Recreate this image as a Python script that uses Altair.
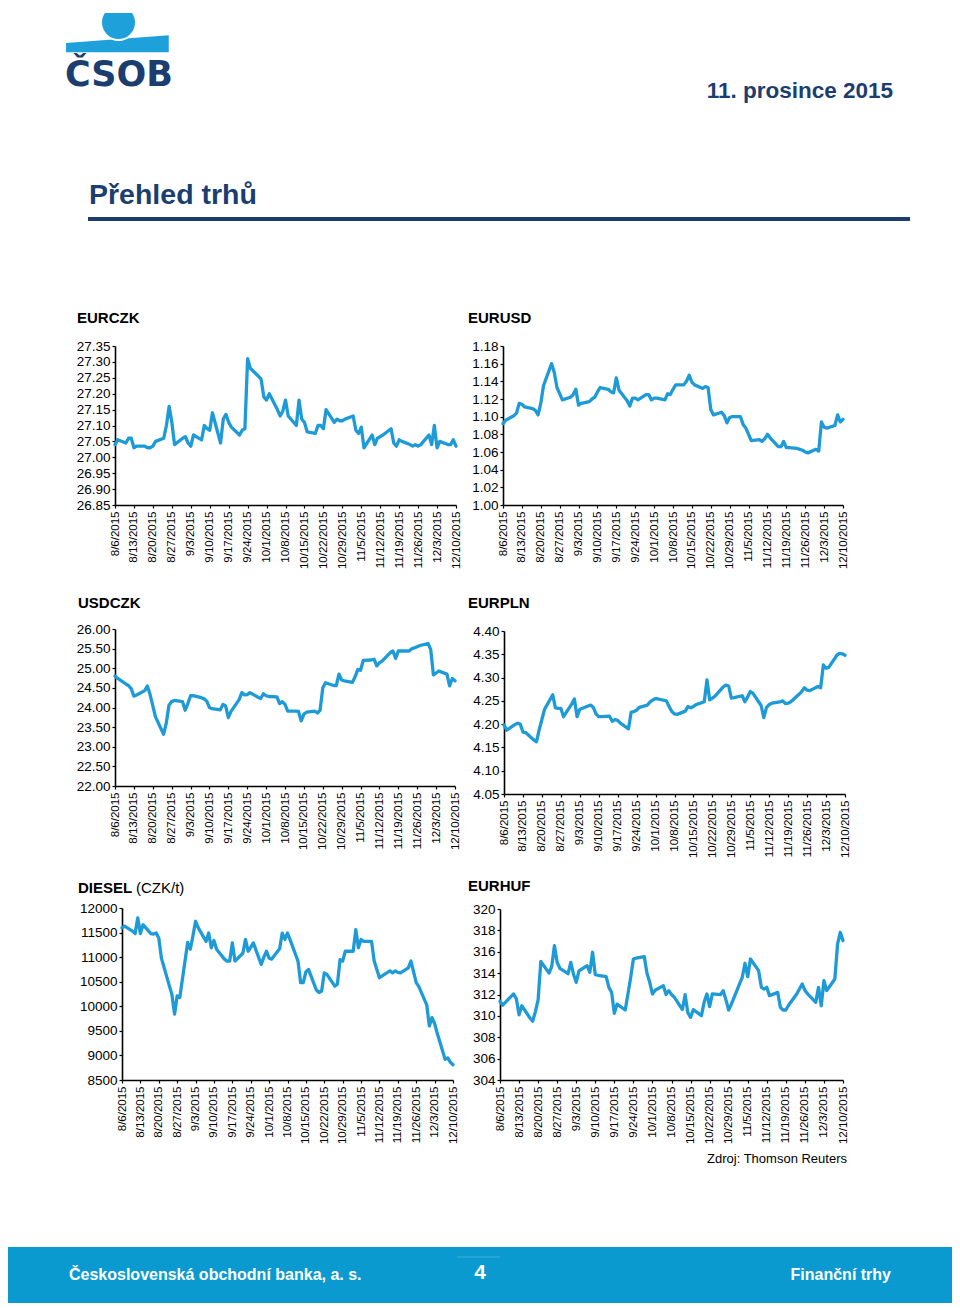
import altair as alt
import pandas as pd

# ---------------- data ----------------
DATES = [d.strftime("%Y-%m-%d") for d in pd.bdate_range("2015-08-06", "2015-12-10")]
TICK_DATES = ["2015-08-06", "2015-08-13", "2015-08-20", "2015-08-27", "2015-09-03",
              "2015-09-10", "2015-09-17", "2015-09-24", "2015-10-01", "2015-10-08",
              "2015-10-15", "2015-10-22", "2015-10-29", "2015-11-05", "2015-11-12",
              "2015-11-19", "2015-11-26", "2015-12-03", "2015-12-10"]

EURCZK = [27.04, 27.055, 27.045, 27.06, 27.06,
          27.03, 27.035, 27.035, 27.03, 27.03,
          27.035, 27.05, 27.06, 27.10, 27.16,
          27.11, 27.04, 27.06, 27.065, 27.045,
          27.035, 27.07, 27.055, 27.10, 27.09,
          27.085, 27.14, 27.045, 27.12, 27.135,
          27.11, 27.095, 27.07, 27.085, 27.09,
          27.31, 27.28, 27.255, 27.245, 27.19,
          27.18, 27.20, 27.15, 27.13, 27.145,
          27.18, 27.13, 27.10, 27.18, 27.12,
          27.11, 27.08, 27.075, 27.10, 27.10,
          27.09, 27.15, 27.11, 27.12, 27.115,
          27.115, 27.12, 27.13, 27.085, 27.075,
          27.095, 27.03, 27.07, 27.04, 27.06,
          27.065, 27.07, 27.09, 27.045, 27.035,
          27.055, 27.05, 27.04, 27.035, 27.04,
          27.035, 27.04, 27.07, 27.04, 27.10,
          27.03, 27.05, 27.04, 27.04, 27.055,
          27.035]

EURUSD = [1.092, 1.096, 1.101, 1.104, 1.115,
          1.114, 1.111, 1.109, 1.107, 1.102,
          1.115, 1.135, 1.160, 1.150, 1.133,
          1.126, 1.119, 1.122, 1.125, 1.131,
          1.113, 1.115, 1.117, 1.120, 1.122,
          1.128, 1.133, 1.131, 1.128, 1.127,
          1.144, 1.130, 1.118, 1.112, 1.121,
          1.121, 1.119, 1.125, 1.125, 1.119,
          1.121, 1.121, 1.119, 1.126, 1.125,
          1.131, 1.136, 1.136, 1.140, 1.147,
          1.139, 1.136, 1.132, 1.134, 1.133,
          1.108, 1.102, 1.105, 1.101, 1.093,
          1.099, 1.100, 1.100, 1.091, 1.087,
          1.080, 1.073, 1.074, 1.072, 1.075,
          1.080, 1.076, 1.066, 1.066, 1.072,
          1.065, 1.065, 1.064, 1.063, 1.062,
          1.060, 1.059, 1.063, 1.061, 1.094,
          1.088, 1.087, 1.090, 1.102, 1.094,
          1.097]

USDCZK = [24.80, 24.74, 24.60, 24.56, 24.48,
          24.29, 24.32, 24.43, 24.55, 24.33,
          24.05, 23.76, 23.32, 23.60, 24.06,
          24.15, 24.18, 24.15, 23.93, 24.10,
          24.30, 24.30, 24.25, 24.22, 24.16,
          24.00, 23.97, 23.94, 24.08, 24.04,
          23.74, 23.90, 24.20, 24.38, 24.32,
          24.33, 24.38, 24.26, 24.23, 24.35,
          24.30, 24.28, 24.27, 24.10, 24.15,
          24.08, 23.91, 23.91, 23.90, 23.66,
          23.83, 23.88, 23.91, 23.86, 23.93,
          24.50, 24.63, 24.56, 24.56, 24.85,
          24.70, 24.68, 24.64, 24.79, 24.97,
          24.95, 25.20, 25.21, 25.23, 25.06,
          25.14, 25.18, 25.40, 25.44, 25.25,
          25.44, 25.44, 25.44, 25.50, 25.52,
          25.55, 25.58, 25.63, 25.48, 24.83,
          24.88, 24.93, 24.85, 24.55, 24.74,
          24.68]

EURPLN = [4.198, 4.187, 4.199, 4.202, 4.200,
          4.183, 4.182, 4.166, 4.162, 4.188,
          4.210, 4.232, 4.263, 4.235, 4.234,
          4.234, 4.216, 4.243, 4.254, 4.216,
          4.232, 4.234, 4.241, 4.236, 4.222,
          4.216, 4.216, 4.217, 4.206, 4.210,
          4.208, 4.202, 4.190, 4.226, 4.227,
          4.230, 4.236, 4.241, 4.248, 4.252,
          4.255, 4.254, 4.250, 4.238, 4.227,
          4.222, 4.221, 4.228, 4.238, 4.235,
          4.238, 4.242, 4.248, 4.295, 4.252,
          4.256, 4.260, 4.280, 4.284, 4.282,
          4.256, 4.257, 4.261, 4.248, 4.258,
          4.270, 4.266, 4.240, 4.214, 4.236,
          4.242, 4.245, 4.248, 4.250, 4.244,
          4.245, 4.248, 4.264, 4.270, 4.278,
          4.273, 4.272, 4.281, 4.278, 4.327,
          4.320, 4.322, 4.348, 4.352, 4.351,
          4.348]

DIESEL = [11595, 11630, 11530, 11480, 11800,
          11480, 11660, 11480, 11470, 11490,
          11390, 10980, 10420, 10240, 9840,
          10210, 10180, 11300, 11160, 11430,
          11730, 11600, 11320, 11490, 11190,
          11340, 11160, 10960, 10920, 10920,
          11290, 10920, 11080, 11360, 11120,
          11200, 11290, 10850, 11000, 11120,
          10980, 10960, 11170, 11490, 11360,
          11490, 11350, 10920, 10480, 10480,
          10700, 10750, 10330, 10280, 10310,
          10680, 10650, 10410, 10450, 10950,
          10920, 11120, 11120, 11560, 11190,
          11360, 11320, 11320, 10920, 10750,
          10580, 10620, 10720, 10680, 10720,
          10690, 10680, 10780, 10920, 10700,
          10480, 10400, 10030, 9600, 9770,
          9650, 9450, 8920, 8950, 8860,
          8810]

EURHUF = [311.36, 311.0, 311.8, 312.05, 311.6,
          310.1, 310.95, 309.8, 309.5, 310.4,
          311.5, 315.1, 314.0, 314.6, 316.57,
          315.0, 314.45, 313.95, 315.0, 313.9,
          313.14, 314.2, 314.7, 314.07, 315.95,
          313.86, 313.8, 313.67, 312.67, 312.2,
          310.24, 311.1, 310.55, 312.05, 313.6,
          315.32, 315.4, 315.54, 313.98, 313.14,
          312.05, 312.4, 312.83, 312.0, 312.36,
          312.0, 311.75, 310.6, 311.98, 310.3,
          309.86, 310.58, 310.02, 311.3, 312.05,
          310.86, 312.05, 311.98, 312.36, 311.5,
          310.55, 311.1, 313.0, 313.61, 314.92,
          313.67, 315.32, 314.23, 312.67, 312.51,
          312.67, 311.89, 312.2, 310.8, 310.55,
          310.55, 311.0, 312.05, 312.51, 312.98,
          312.4, 312.05, 311.27, 312.67, 310.95,
          313.29, 312.36, 313.45, 316.72, 317.82,
          317.04]

TICKS_EURCZK = [26.85, 26.90, 26.95, 27.00, 27.05, 27.10, 27.15, 27.20, 27.25, 27.30, 27.35]
TICKS_EURUSD = [1.00, 1.02, 1.04, 1.06, 1.08, 1.10, 1.12, 1.14, 1.16, 1.18]
TICKS_USDCZK = [22.0, 22.5, 23.0, 23.5, 24.0, 24.5, 25.0, 25.5, 26.0]
TICKS_EURPLN = [4.05, 4.10, 4.15, 4.20, 4.25, 4.30, 4.35, 4.40]
TICKS_DIESEL = [8500, 9000, 9500, 10000, 10500, 11000, 11500, 12000]
TICKS_EURHUF = [304, 306, 308, 310, 312, 314, 316, 318, 320]

DATE_TEXT = "11. prosince 2015"
PAGE_TITLE = "Přehled trhů"
LOGO_TEXT = "ČSOB"
SOURCE_TEXT = "Zdroj: Thomson Reuters"
FOOT_LEFT = "Československá obchodní banka, a. s."
FOOT_PAGE = "4"
FOOT_RIGHT = "Finanční trhy"

# ---------------- styles ----------------
FONT = "Liberation Sans, Arial, sans-serif"
LINE = "#1e9bd7"
NAVY = "#1b3e6f"
LOGO_BLUE = "#1ea0db"
BAR_BLUE = "#0b9ad0"
BAR_LIGHT = "#3aaedb"
W, H = 944, 1292


def ms(d):
    return int(pd.Timestamp(d, tz="UTC").timestamp() * 1000)


TICK_MS = [ms(d) for d in TICK_DATES]
X_DOMAIN = [ms(TICK_DATES[0]), ms(TICK_DATES[-1])]


def panel(values, ydom, yticks, yfmt, x0, x1, ytop, ybot):
    df = pd.DataFrame({"date": DATES, "value": values})
    return alt.Chart(df).mark_line(
        color=LINE, strokeWidth=3.3, strokeJoin="round", strokeCap="round"
    ).encode(
        x=alt.X("date:T",
                scale=alt.Scale(type="utc", domain=X_DOMAIN, range=[x0, x1], nice=False),
                axis=alt.Axis(orient="bottom", offset=ybot - H,
                              values=TICK_MS, format="%-m/%-d/%Y", labelAngle=270,
                              labelAlign="right", labelBaseline="middle",
                              labelFont=FONT, labelFontSize=11.5, labelColor="black",
                              labelPadding=3, tickSize=3, tickColor="black", tickWidth=1.2,
                              domainColor="black", domainWidth=1.6, grid=False, title=None,
                              labelOverlap=False, labelFlush=False)),
        y=alt.Y("value:Q",
                scale=alt.Scale(domain=ydom, range=[ybot, ytop], zero=False, nice=False),
                axis=alt.Axis(orient="left", offset=-x0,
                              values=yticks, format=yfmt,
                              labelFont=FONT, labelFontSize=13.5, labelColor="black",
                              labelPadding=2, tickSize=3, tickColor="black", tickWidth=1.2,
                              domainColor="black", domainWidth=1.6, grid=False, title=None,
                              labelOverlap=False, labelFlush=False)),
    )


def label(text, x, y, size=15, bold=True, align="left", color="black", font=FONT):
    return alt.Chart(pd.DataFrame({"t": [text]})).mark_text(
        align=align, baseline="middle", font=font, fontSize=size,
        fontWeight="bold" if bold else "normal", color=color
    ).encode(text="t:N", x=alt.value(x), y=alt.value(y))


one = pd.DataFrame({"k": [0]})

# ---------------- header ----------------
band = alt.Chart(one).mark_point(
    shape="M -1 -0.016 L 1 -0.166 L 1 0.166 L -1 0.166 Z",
    filled=True, size=10547, fill=LOGO_BLUE, opacity=1, strokeWidth=0
).encode(x=alt.value(109.4), y=alt.value(32.8))
circle = alt.Chart(one).mark_point(
    shape="M -0.8 -0.6 A 1 1 0 1 0 0.8 -0.6 Z",
    filled=True, size=1225, fill=LOGO_BLUE, opacity=1, stroke="white", strokeWidth=2
).encode(x=alt.value(110.5), y=alt.value(11.5))
logo = alt.Chart(pd.DataFrame({"t": [LOGO_TEXT]})).mark_text(
    align="left", baseline="alphabetic", font="DejaVu Sans", fontWeight="bold",
    fontSize=35, color=NAVY
).encode(text="t:N", x=alt.value(57), y=alt.value(75))
date_t = label(DATE_TEXT, 885, 80, size=22.5, align="right", color=NAVY)
title_t = label(PAGE_TITLE, 81, 184, size=28.5, color=NAVY)
rule = alt.Chart(one).mark_rule(color=NAVY, strokeWidth=4).encode(
    x=alt.value(80), x2=alt.value(902), y=alt.value(208))

# ---------------- panels ----------------
panels = [
    panel(EURCZK, [26.85, 27.35], TICKS_EURCZK, ".2f", 107, 448, 335, 494),
    panel(EURUSD, [1.00, 1.18], TICKS_EURUSD, ".2f", 495, 835, 335, 494),
    panel(USDCZK, [22.0, 26.0], TICKS_USDCZK, ".2f", 107, 447, 618, 775),
    panel(EURPLN, [4.05, 4.40], TICKS_EURPLN, ".2f", 496, 837, 620, 783),
    panel(DIESEL, [8500, 12000], TICKS_DIESEL, "d", 114, 445, 897, 1069),
    panel(EURHUF, [304, 320], TICKS_EURHUF, "d", 492, 835, 898, 1069),
]
titles = [
    label("EURCZK", 69, 307),
    label("EURUSD", 460, 307),
    label("USDCZK", 70, 592),
    label("EURPLN", 460, 592),
    label("DIESEL", 70, 877),
    label("(CZK/t)", 128, 877, bold=False),
    label("EURHUF", 460, 875),
]

# ---------------- footer ----------------
src = label(SOURCE_TEXT, 839, 1148, size=13, bold=False, align="right")
bar = alt.Chart(one).mark_rect(color=BAR_BLUE, opacity=1).encode(
    x=alt.value(0), x2=alt.value(W), y=alt.value(1236), y2=alt.value(H))
bar_line = alt.Chart(one).mark_rule(color=BAR_LIGHT, strokeWidth=1).encode(
    x=alt.value(449), x2=alt.value(492), y=alt.value(1246))
f_left = label(FOOT_LEFT, 61, 1264, size=16, color="white")
f_page = label(FOOT_PAGE, 472, 1262, size=21, align="center", color="white")
f_right = label(FOOT_RIGHT, 883, 1264, size=16, align="right", color="white")

chart = alt.layer(
    band, circle, logo, date_t, title_t, rule,
    *panels, *titles,
    src, bar, bar_line, f_left, f_page, f_right,
).resolve_scale(x="independent", y="independent").properties(
    width=W, height=H, padding=0, background="white"
).configure_view(stroke=None)

chart.save("out.html", embed_options={"renderer": "svg", "actions": False})
